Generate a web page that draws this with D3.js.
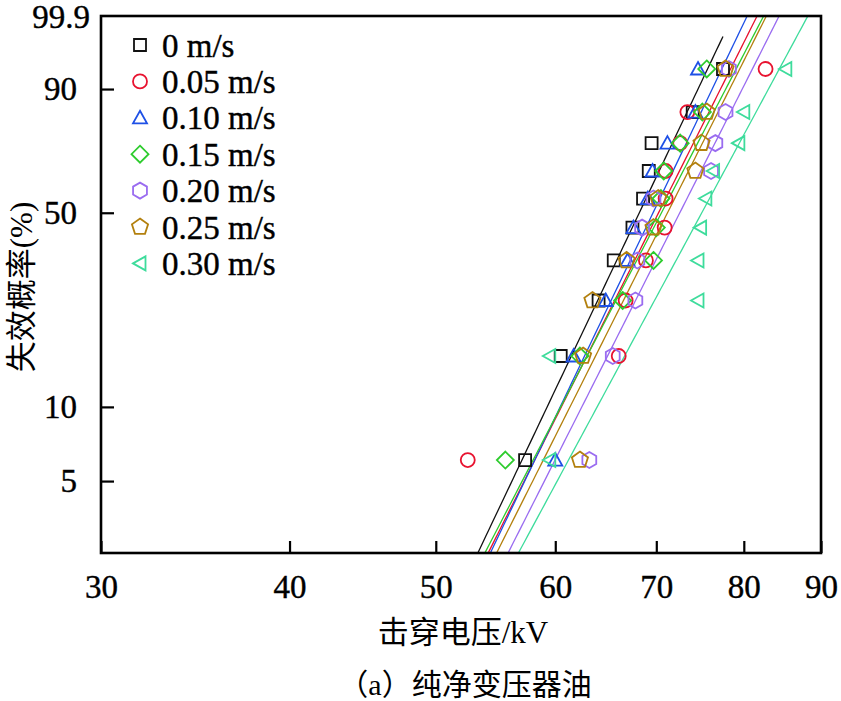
<!DOCTYPE html>
<html><head><meta charset="utf-8">
<script src="https://cdn.jsdelivr.net/npm/d3@7"></script>
<style>body{margin:0;background:#fff}</style></head>
<body><svg id="c" width="841" height="701"></svg>
<script>
// ---- data ----
const seriesNames = ["0 m/s","0.05 m/s","0.10 m/s","0.15 m/s","0.20 m/s","0.25 m/s","0.30 m/s"];
const seriesColors = ["#111111","#e8122f","#1e50e6","#2ecc2e","#9a6cf0","#b3800e","#3edc9c"];
const seriesShapes = ["square","circle","triangle","diamond","hexagon","pentagon","leftTriangle"];
const v000 = [57.3,60.5,64.1,65.6,67.5,68.6,69.2,69.5,74.0,77.5];
const v005 = [52.5,66.1,66.8,68.9,70.9,71.0,71.0,72.6,73.4,82.7];
const v010 = [60.0,61.7,64.8,67.0,67.6,69.1,69.6,71.2,74.3,74.6];
const v015 = [55.6,62.3,66.5,69.7,70.0,70.5,70.8,72.6,75.1,75.6];
const v020 = [63.2,65.5,67.8,68.0,68.5,69.7,76.1,76.6,77.8,78.2];
const v025 = [62.3,62.6,63.5,66.9,69.7,70.2,74.3,75.0,75.6,77.8];
const v030 = [59.5,59.5,74.6,74.6,74.9,75.5,76.4,79.4,80.0,85.3];
const seriesValues = [v000,v005,v010,v015,v020,v025,v030];
// fitted Weibull lines (scale kV, shape)
const weibullScale = [70.1,72.3,71.6,72.7,74.7,73.3,77.4];
const weibullShape = [13.4,12.7,13.3,12.25,12.6,12.66,11.8];
const lineMaxKV = [77.5,95,95,95,95,95,95];
const xTicks = [30,40,50,60,70,80,90];
const yTicks = [5,10,50,90];
const yDomainP = [2.52,99.07];
const yTopLabel = "99.9";
const xTitle = "击穿电压/kV";
const yTitle = "失效概率(%)";
const caption = "（a）纯净变压器油";

// ---- layout ----
const L=101, R=821, T=16, B=553;
const svg = d3.select("#c");
const W = p => Math.log(-Math.log(1-p/100));
const x = d3.scaleLog().domain([30,90]).range([L,R]);
const y = d3.scaleLinear().domain([W(yDomainP[0]),W(yDomainP[1])]).range([B,T]);
const yp = p => y(W(p));
const serif = "'Liberation Serif','Times New Roman','Noto Sans CJK SC',serif";

svg.append("defs").append("clipPath").attr("id","clip")
  .append("rect").attr("x",L).attr("y",T).attr("width",R-L).attr("height",B-T);

// fitted lines
const lineGen = d3.line().x(d=>x(d[0])).y(d=>y(d[1]));
seriesValues.forEach((vals,i)=>{
  const pts=[];
  for(let kv=45; kv<=lineMaxKV[i]+1e-9; kv+=0.25){
    const w = weibullShape[i]*(Math.log(kv)-Math.log(weibullScale[i]));
    pts.push([kv,w]);
  }
  const kvE = lineMaxKV[i];
  pts.push([kvE, weibullShape[i]*(Math.log(kvE)-Math.log(weibullScale[i]))]);
  svg.append("path").attr("d",lineGen(pts)).attr("fill","none")
    .attr("stroke",seriesColors[i]).attr("stroke-width",1.3).attr("clip-path","url(#clip)");
});

// marker shapes
function poly(n, r, rot){
  const a=[];
  for(let k=0;k<n;k++){const t=rot+2*Math.PI*k/n;a.push([r*Math.cos(t),r*Math.sin(t)]);}
  return "M"+a.map(p=>p[0].toFixed(2)+","+p[1].toFixed(2)).join("L")+"Z";
}
function shapePath(s){
  switch(s){
    case "square": return "M-6,-6H6V6H-6Z";
    case "circle": return "M-7,0A7,7 0 1,0 7,0A7,7 0 1,0 -7,0Z";
    case "triangle": return "M0,-7L7,5.5L-7,5.5Z";
    case "diamond": return "M0,-8.5L8.5,0L0,8.5L-8.5,0Z";
    case "hexagon": return poly(6,8,-Math.PI/2);
    case "pentagon": return poly(5,8.5,-Math.PI/2);
    case "leftTriangle": return "M-7,0L5.5,-7L5.5,7Z";
  }
}
const n = 10;
const blom = i => (i+1-0.375)/(n+0.25)*100;
seriesValues.forEach((vals,i)=>{
  svg.append("g").selectAll("path").data(vals).join("path")
    .attr("transform",(d,k)=>`translate(${x(d)},${yp(blom(k))})`)
    .attr("d",shapePath(seriesShapes[i])).attr("fill","none")
    .attr("stroke",seriesColors[i]).attr("stroke-width",1.8);
});

// axes
const xa = svg.append("g").attr("transform",`translate(0,${B})`)
  .call(d3.axisBottom(x).tickValues(xTicks).tickFormat(d3.format("d")).tickSizeInner(-12).tickSizeOuter(0).tickPadding(22));
const ya = svg.append("g").attr("transform",`translate(${L},0)`)
  .call(d3.axisLeft(y).tickValues(yTicks.map(W)).tickFormat((d,i)=>yTicks[i]).tickSizeInner(-13).tickSizeOuter(0).tickPadding(24));
[xa,ya].forEach(a=>{
  a.select(".domain").remove();
  a.selectAll("line").attr("stroke","#000").attr("stroke-width",2.2);
  a.selectAll("text").attr("font-family",serif).attr("font-size",33).attr("fill","#000")
    .attr("stroke","#000").attr("stroke-width",0.4);
});
xa.selectAll("text").attr("dy","0.71em");
svg.append("text").attr("x",L-11).attr("y",T).attr("dy","0.35em").attr("text-anchor","end")
  .attr("font-family",serif).attr("font-size",33).attr("stroke","#000").attr("stroke-width",0.4).text(yTopLabel);

svg.append("rect").attr("x",L).attr("y",T).attr("width",R-L).attr("height",B-T)
  .attr("fill","none").attr("stroke","#000").attr("stroke-width",2.6);

// legend
const lg = svg.append("g");
seriesNames.forEach((nm,i)=>{
  const cy = 45 + i*36.4;
  lg.append("path").attr("transform",`translate(140,${cy})`).attr("d",shapePath(seriesShapes[i]))
    .attr("fill","none").attr("stroke",seriesColors[i]).attr("stroke-width",1.8);
  lg.append("text").attr("x",162).attr("y",cy).attr("dy","0.35em")
    .attr("font-family",serif).attr("font-size",33).attr("stroke","#000").attr("stroke-width",0.4).text(nm);
});

// titles
svg.append("text").attr("x",463).attr("y",643).attr("text-anchor","middle")
  .attr("font-family",serif).attr("font-size",31).text(xTitle);
svg.append("text").attr("transform",`translate(32,287) rotate(-90)`).attr("text-anchor","middle")
  .attr("font-family",serif).attr("font-size",31).text(yTitle);
svg.append("text").attr("x",465).attr("y",695).attr("text-anchor","middle")
  .attr("font-family",serif).attr("font-size",30).text(caption);
</script></body></html>
